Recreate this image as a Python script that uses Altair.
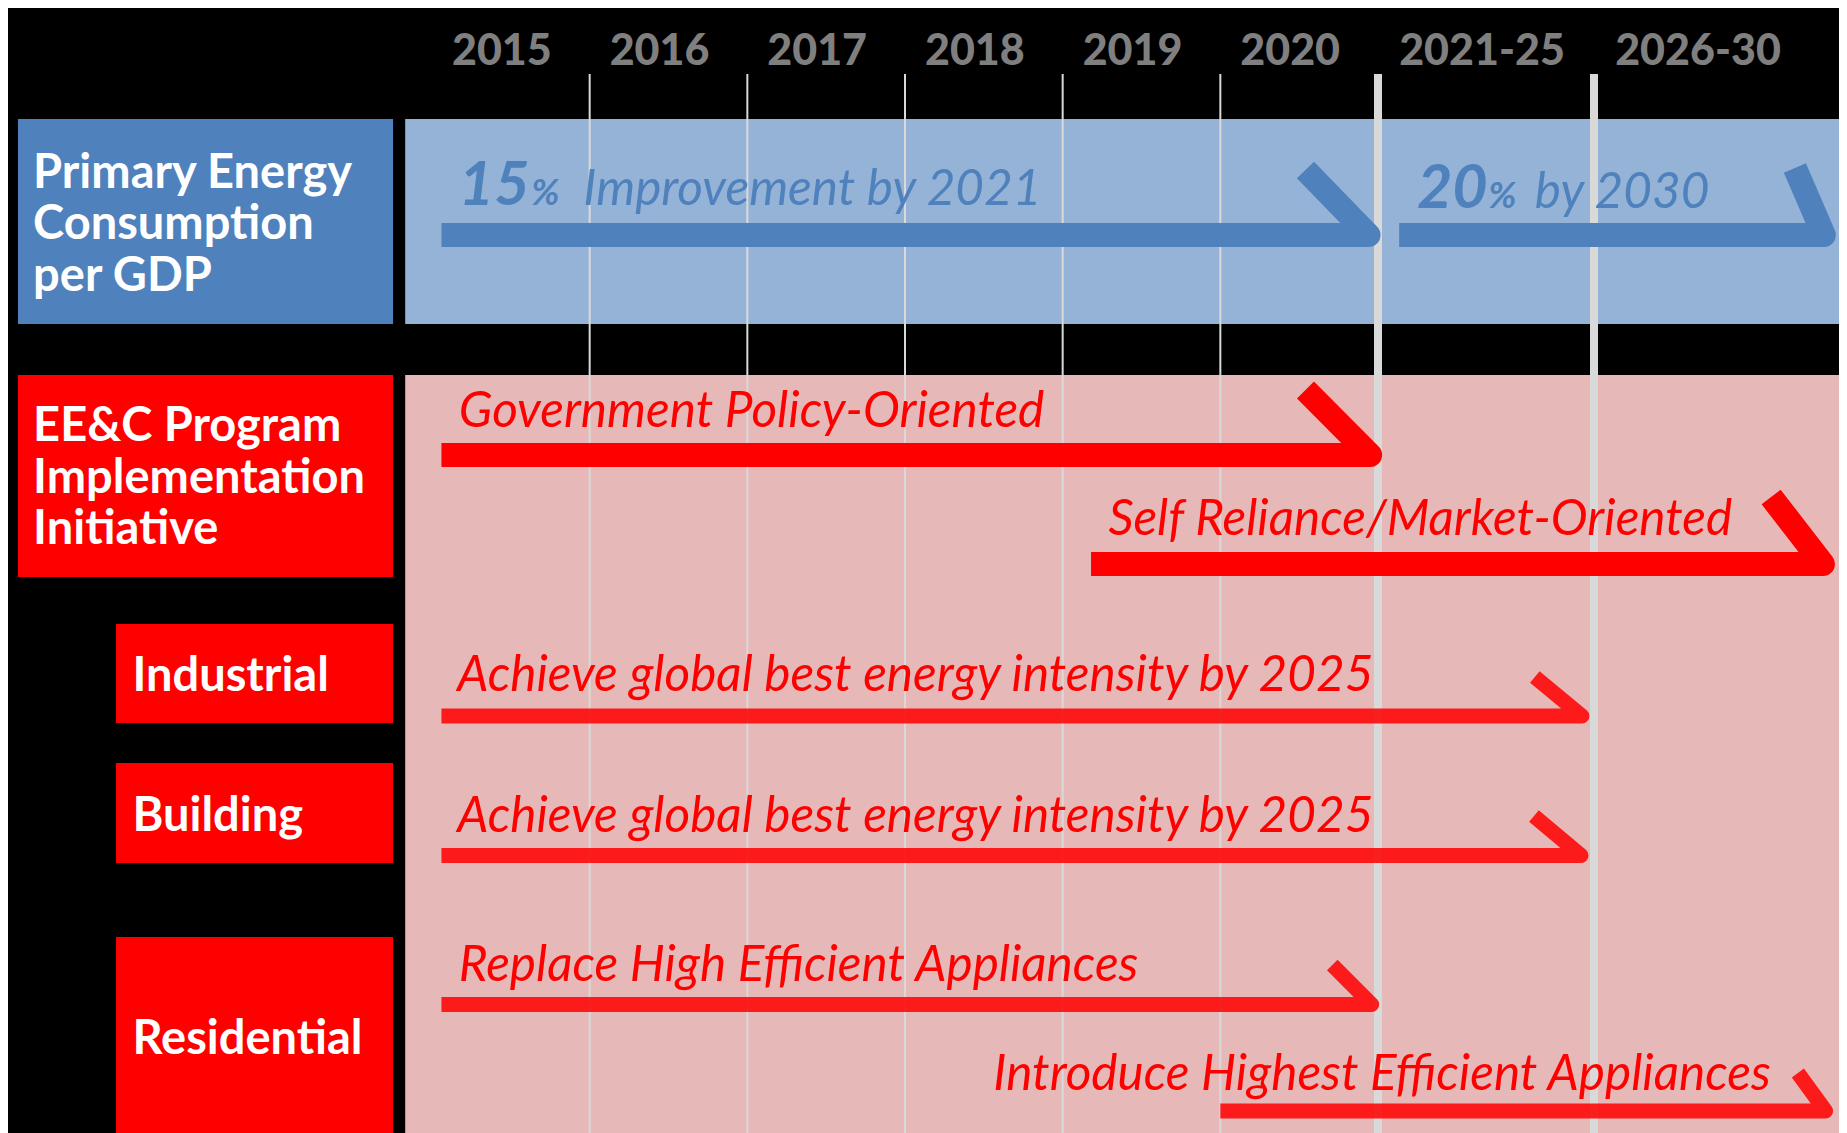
import altair as alt
import pandas as pd

W, H = 1831, 1125

# ---------------- data ----------------
# timeline header (periods)
period_labels = ["2015", "2016", "2017", "2018", "2019", "2020", "2021-25", "2026-30"]
period_start = [2015, 2016, 2017, 2018, 2019, 2020, 2021, 2026]
period_end = [2016, 2017, 2018, 2019, 2020, 2021, 2026, 2031]
thin_dividers = [2016, 2017, 2018, 2019, 2020]
thick_dividers = [2021, 2026]

# row categories (left boxes)
row_lines = [
    ["Primary Energy", "Consumption", "per GDP"],
    ["EE&C Program", "Implementation", "Initiative"],
    ["Industrial"],
    ["Building"],
    ["Residential"],
]
row_fill = ["#4F81BD", "#FF0000", "#FF0000", "#FF0000", "#FF0000"]

# arrows (targets / initiatives), x in years
arrow_text = [
    "Improvement by 2021",
    "by 2030",
    "Government Policy-Oriented",
    "Self Reliance/Market-Oriented",
    "Achieve global best energy intensity by 2025",
    "Achieve global best energy intensity by 2025",
    "Replace High Efficient Appliances",
    "Introduce Highest Efficient Appliances",
]
arrow_from = [2015.06, 2021.49, 2015.06, 2019.18, 2015.06, 2015.06, 2015.06, 2020.00]
arrow_to = [2020.94, 2031.32, 2020.95, 2031.30, 2025.72, 2025.70, 2020.96, 2031.36]
arrow_hook = [2020.54, 2030.65, 2020.54, 2030.10, 2024.63, 2024.61, 2020.71, 2030.72]
arrow_text_x = [2015.96, 2024.63, 2015.17, 2019.29, 2015.16, 2015.16, 2015.17, 2018.56]
arrow_color = ["#4F81BD", "#4F81BD", "#FF0000", "#FF0000", "#FF0000", "#FF0000", "#FF0000", "#FF0000"]

pct_values = ["15", "20"]
pct_x = [2015.17, 2021.90]
pct_sign_x = [2015.63, 2023.55]

# ---------------- layout (row positions, pixels from top) ----------------
HEADER_BASE = 57
DIV_TOP = 66
band_y = [(111, 316, "#95B3D7"), (367, H, "#E6B8B7")]
BAND_X0, BAND_X1 = 2014.83, 2031.86
box_x0 = [2012.374, 2012.374, 2012.996, 2012.996, 2012.996]
BOX_X1 = 2014.753
box_y = [(111, 316), (367, 569), (616, 715), (755, 855), (929, H)]
label_x = [2012.47, 2012.47, 2013.10, 2013.10, 2013.10]
label_base = [[180, 231, 283], [433, 485, 536], [683], [823], [1046]]

arrow_bar_y = [227, 227, 447, 556, 708, 847.5, 996.5, 1103]
arrow_tip_y = [162, 160, 382, 489, 669, 808, 957, 1065]
arrow_text_y = [197, 200, 419, 527, 683, 824, 973, 1082]
arrow_width = [24, 24, 24, 24, 15, 15, 15, 15]
arrow_opacity = [1, 1, 1, 1, 0.86, 0.86, 0.86, 0.86]
pct_y = [197, 200]

# ---------------- tables ----------------
bands = pd.DataFrame([{"x": BAND_X0, "x2": BAND_X1, "y": a, "y2": b, "fill": c} for a, b, c in band_y])
boxes = pd.DataFrame([
    {"x": box_x0[i], "x2": BOX_X1, "y": box_y[i][0], "y2": box_y[i][1], "fill": row_fill[i]}
    for i in range(len(row_lines))
])
labels = pd.DataFrame([
    {"x": label_x[i], "y": label_base[i][j], "t": row_lines[i][j]}
    for i in range(len(row_lines)) for j in range(len(row_lines[i]))
])
header = pd.DataFrame({
    "t": period_labels,
    "x": [(a + b) / 2 for a, b in zip(period_start, period_end)],
    "y": [HEADER_BASE] * len(period_labels),
    "span": [b - a for a, b in zip(period_start, period_end)],
})
header_single = header[header["span"] == 1]
header_range = header[header["span"] > 1]
thin = pd.DataFrame({"x": thin_dividers, "y": DIV_TOP, "y2": H})
thick = pd.DataFrame({"x": thick_dividers, "y": DIV_TOP, "y2": H})

arrow_rows = []
for i in range(len(arrow_text)):
    pts = [(arrow_from[i], arrow_bar_y[i]), (arrow_to[i], arrow_bar_y[i]), (arrow_hook[i], arrow_tip_y[i])]
    for k, (px, py) in enumerate(pts):
        arrow_rows.append({"id": i, "k": k, "x": px, "y": py, "c": arrow_color[i],
                           "w": arrow_width[i], "o": arrow_opacity[i]})
arrows = pd.DataFrame(arrow_rows)
atext = pd.DataFrame({"t": arrow_text, "x": arrow_text_x, "y": arrow_text_y, "c": arrow_color})
pct = pd.DataFrame({"t": pct_values, "x": pct_x, "y": pct_y})
pct_sign = pd.DataFrame({"t": ["%", "%"], "x": pct_sign_x, "y": pct_y})

# ---------------- scales ----------------
xs = alt.Scale(domain=[2015, 2021, 2026, 2031], range=[424, 1370, 1586, 1802], zero=False, nice=False)
ys = alt.Scale(domain=[0, H], range=[0, H], zero=False, nice=False)
X = lambda f="x": alt.X(f"{f}:Q", scale=xs, axis=None)
Y = lambda f="y": alt.Y(f"{f}:Q", scale=ys, axis=None)

band_layer = alt.Chart(bands).mark_rect().encode(
    x=X(), x2="x2:Q", y=Y(), y2="y2:Q", fill=alt.Fill("fill:N", scale=None))
box_layer = alt.Chart(boxes).mark_rect().encode(
    x=X(), x2="x2:Q", y=Y(), y2="y2:Q", fill=alt.Fill("fill:N", scale=None))
thin_layer = alt.Chart(thin).mark_rule(color="#D9D9D9", strokeWidth=2).encode(x=X(), y=Y(), y2="y2:Q")
thick_layer = alt.Chart(thick).mark_rule(color="#D9D9D9", strokeWidth=8).encode(x=X(), y=Y(), y2="y2:Q")
arrow_layer = alt.Chart(arrows).mark_line(strokeCap="butt", strokeJoin="round").encode(
    x=X(), y=Y(), detail="id:N", order="k:Q",
    color=alt.Color("c:N", scale=None),
    strokeWidth=alt.StrokeWidth("w:Q", scale=None),
    opacity=alt.Opacity("o:Q", scale=None),
)
header_style = dict(font="Lato", fontWeight=900, fontSize=43, color="#7F7F7F", align="center",
                    baseline="alphabetic")
header_layer1 = alt.Chart(header_single).mark_text(dx=-9, **header_style).encode(x=X(), y=Y(), text="t:N")
header_layer2 = alt.Chart(header_range).mark_text(dx=-4, **header_style).encode(x=X(), y=Y(), text="t:N")
label_layer = alt.Chart(labels).mark_text(
    font="Lato", fontWeight="bold", fontSize=47, color="white", align="left",
    baseline="alphabetic").encode(x=X(), y=Y(), text="t:N")
atext_layer = alt.Chart(atext).mark_text(
    font="Lato", fontStyle="italic", fontSize=49.5, align="left", baseline="alphabetic").encode(
    x=X(), y=Y(), text="t:N", color=alt.Color("c:N", scale=None))
pct_layer = alt.Chart(pct).mark_text(
    font="Lato", fontStyle="italic", fontWeight="bold", fontSize=61, color="#4F81BD",
    align="left", baseline="alphabetic").encode(x=X(), y=Y(), text="t:N")
pct_sign_layer = alt.Chart(pct_sign).mark_text(
    font="Lato", fontStyle="italic", fontWeight="bold", fontSize=37, color="#4F81BD",
    align="left", baseline="alphabetic").encode(x=X(), y=Y(), text="t:N")

chart = alt.layer(
    band_layer, box_layer, thin_layer, thick_layer, arrow_layer,
    header_layer1, header_layer2, label_layer, atext_layer, pct_layer, pct_sign_layer,
).properties(
    width=W, height=H, padding=0,
    autosize=alt.AutoSizeParams(type="none"),
    background="black",
).configure_view(strokeWidth=0)

chart.save("out.html", embed_options={"renderer": "svg", "actions": False})
